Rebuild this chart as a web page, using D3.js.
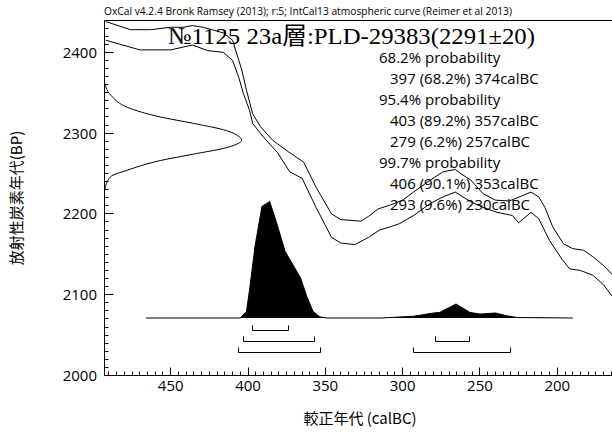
<!DOCTYPE html>
<html><head><meta charset="utf-8">
<script src="https://cdn.jsdelivr.net/npm/d3@7"></script>
<style>body{margin:0;background:#fff}svg{display:block}</style>
</head><body><svg id="c" width="612" height="432"></svg>
<script>
// ---------- data ----------
const titleText = "OxCal v4.2.4 Bronk Ramsey (2013); r:5; IntCal13 atmospheric curve (Reimer et al 2013)";
const sampleLabel = "№1125 23a層:PLD-29383(2291±20)";
const xAxisLabel = "較正年代 (calBC)";
const yAxisLabel = "放射性炭素年代(BP)";
const xTickValues = [450, 400, 350, 300, 250, 200];
const yTickValues = [2000, 2100, 2200, 2300, 2400];

// calibration curve (IntCal13, +/- 1 sigma envelope)
const upperYears = [492,476,463,450,442,436,429,416,410,404,401,397,392,384,374,364,356,346,340,327,322,316,308,300,293,282,274,266,261,256,248,240,231,222,217,212,208,203,196,190,183,177,170,164];
const upperBP    = [2438,2428,2428,2431,2431,2433,2431,2424,2415,2378,2353,2324,2308,2291,2277,2264,2233,2200,2193,2191,2197,2206,2211,2217,2227,2242,2252,2255,2248,2242,2225,2217,2216,2223,2227,2221,2208,2184,2163,2157,2155,2147,2136,2124];
const lowerYears = [492,470,450,436,426,416,410,406,403,399,397,390,381,373,365,356,346,340,331,322,315,308,302,293,282,274,266,261,256,248,239,229,225,217,212,205,197,192,185,177,170,164];
const lowerBP    = [2415,2403,2403,2409,2402,2400,2390,2369,2349,2328,2312,2295,2276,2252,2244,2208,2171,2164,2162,2171,2180,2184,2188,2198,2213,2221,2227,2221,2215,2208,2202,2198,2189,2202,2194,2167,2144,2132,2130,2124,2112,2097];

// radiocarbon measurement distribution (relative density)
const measBP   = [2362,2345,2332,2320,2312,2303,2297,2291,2286,2281,2274,2266,2254,2246,2229];
const measDens = [0,0.056,0.165,0.407,0.649,0.891,0.97,1.0,0.96,0.866,0.649,0.407,0.165,0.044,0];

// calibrated distribution (relative density)
const postYears = [466,405,401,399,395.5,391,386,381.5,376,371,366,362,358,353.5,349,314,293,287,280,276,265.5,256.5,250,240,233,226,190];
const postDens  = [0,0,0.057,0.243,0.614,0.957,1.0,0.815,0.571,0.457,0.343,0.185,0.057,0.009,0,0,0.015,0.028,0.043,0.048,0.12,0.048,0.034,0.043,0.02,0.004,0];

// highest posterior density ranges
const hpdLevels = ["68.2%", "95.4%", "99.7%"];
const hpdFrom   = [[397], [403, 279], [406, 293]];
const hpdTo     = [[374], [357, 257], [353, 230]];
const hpdPct    = [["68.2%"], ["89.2%", "6.2%"], ["90.1%", "9.6%"]];

// ---------- layout ----------
const svg = d3.select("#c");
const L = 104.5, R = 612, T = 20.5, B = 375.5;
const x = d3.scaleLinear().domain([450, 200]).range([170.7, 557.3]);
const y = d3.scaleLinear().domain([2000, 2400]).range([B, 52.3]);
const gx = d3.scaleLinear().domain([0, 1]).range([L, 241.7]);
const py = d3.scaleLinear().domain([0, 1]).range([318, 201.4]);
const latin = "'Open Sans', 'Liberation Sans', sans-serif";
const cjk = "'Noto Sans CJK JP', 'Open Sans', sans-serif";
const crisp = v => Math.round(v - 0.5) + 0.5;

svg.append("defs").append("clipPath").attr("id", "clip")
  .append("rect").attr("x", L).attr("y", T).attr("width", R - L).attr("height", B - T);

const g = svg.append("g").attr("clip-path", "url(#clip)");

// calibration curve
const calLine = d3.line().x(d => x(d[0])).y(d => y(d[1]));
g.append("path").datum(d3.zip(upperYears, upperBP)).attr("d", calLine)
  .attr("fill", "none").attr("stroke", "#000").attr("stroke-width", 1);
g.append("path").datum(d3.zip(lowerYears, lowerBP)).attr("d", calLine)
  .attr("fill", "none").attr("stroke", "#000").attr("stroke-width", 1);

// measurement distribution on y axis
g.append("path").datum(d3.zip(measBP, measDens))
  .attr("d", d3.line().x(d => gx(d[1])).y(d => y(d[0])).curve(d3.curveMonotoneY))
  .attr("fill", "none").attr("stroke", "#000").attr("stroke-width", 1);

// calibrated distribution
const postData = d3.zip(postYears, postDens);
g.append("path").datum(postData)
  .attr("d", d3.area().x(d => x(d[0])).y0(py(0)).y1(d => py(d[1])))
  .attr("fill", "#000");
g.append("path").datum(postData)
  .attr("d", d3.line().x(d => x(d[0])).y(d => py(d[1])))
  .attr("fill", "none").attr("stroke", "#000").attr("stroke-width", 1);

// hpd brackets
const rowY = [330.5, 341.5, 352.5];
hpdLevels.forEach((lev, i) => {
  hpdFrom[i].forEach((f, j) => {
    const t = hpdTo[i][j];
    const ry = rowY[i];
    svg.append("path")
      .attr("d", `M${crisp(x(f))},${ry - 5}V${ry}H${crisp(x(t))}V${ry - 5}`)
      .attr("fill", "none").attr("stroke", "#000").attr("stroke-width", 1);
  });
});

// axes (ticks pointing inward)
const xMinor = d3.range(165, 495, 5).filter(v => v % 50 !== 0);
const yMinor = d3.range(2010, 2440, 10).filter(v => v % 100 !== 0);
const ticks = svg.append("g").attr("stroke", "#000").attr("stroke-width", 1);
ticks.selectAll("line.xm").data(xMinor).join("line").attr("class", "xm")
  .attr("x1", d => crisp(x(d))).attr("x2", d => crisp(x(d))).attr("y1", B).attr("y2", B - 4);
ticks.selectAll("line.xM").data(xTickValues).join("line").attr("class", "xM")
  .attr("x1", d => crisp(x(d))).attr("x2", d => crisp(x(d))).attr("y1", B).attr("y2", B - 8);
ticks.selectAll("line.ym").data(yMinor).join("line").attr("class", "ym")
  .attr("y1", d => crisp(y(d))).attr("y2", d => crisp(y(d))).attr("x1", L).attr("x2", L + 4);
ticks.selectAll("line.yM").data(yTickValues).join("line").attr("class", "yM")
  .attr("y1", d => crisp(y(d))).attr("y2", d => crisp(y(d))).attr("x1", L).attr("x2", L + 9);

svg.append("g").selectAll("text").data(xTickValues).join("text")
  .attr("x", d => x(d)).attr("y", 391).attr("text-anchor", "middle")
  .attr("font-family", latin).attr("font-size", 15).text(d => d);
svg.append("g").selectAll("text").data(yTickValues).join("text")
  .attr("x", 97).attr("y", d => y(d) + 5.5).attr("text-anchor", "end")
  .attr("font-family", latin).attr("font-size", 15).text(d => d);

// frame
svg.append("path").attr("d", `M${R},${T}H${L}V${B}H${R}`)
  .attr("fill", "none").attr("stroke", "#000").attr("stroke-width", 1);

// texts
svg.append("text").attr("x", 104).attr("y", 15).text(titleText)
  .attr("font-family", latin).attr("font-size", 10).attr("textLength", 408).attr("lengthAdjust", "spacingAndGlyphs");

svg.append("text").attr("x", 168).attr("y", 44).text(sampleLabel)
  .attr("font-family", "'Liberation Serif', 'Noto Sans CJK JP', serif").attr("font-size", 24)
  .attr("textLength", 367).attr("lengthAdjust", "spacingAndGlyphs");

const lines = [];
hpdLevels.forEach((lev, i) => {
  lines.push({t: `${lev} probability`, indent: false});
  hpdFrom[i].forEach((f, j) => lines.push({t: `${f} (${hpdPct[i][j]}) ${hpdTo[i][j]}calBC`, indent: true}));
});
svg.append("g").selectAll("text").data(lines).join("text")
  .attr("x", d => d.indent ? 390 : 379)
  .attr("y", (d, i) => 63 + i * 21)
  .attr("font-family", latin).attr("font-size", 15)
  .text(d => d.t);

svg.append("text").attr("x", 360).attr("y", 424).attr("text-anchor", "middle")
  .attr("font-family", cjk).attr("font-size", 15).text(xAxisLabel);
svg.append("text").attr("transform", "translate(22,198) rotate(-90)").attr("text-anchor", "middle")
  .attr("font-family", cjk).attr("font-size", 15).text(yAxisLabel);
</script></body></html>
